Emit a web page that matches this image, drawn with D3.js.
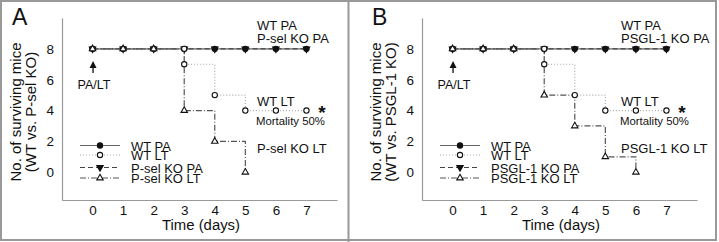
<!DOCTYPE html>
<html><head><meta charset="utf-8">
<script src="https://cdn.jsdelivr.net/npm/d3@7"></script>
<style>body{margin:0;background:#fff}svg{display:block}text{font-family:"Liberation Sans",Arial,sans-serif;fill:#111}</style>
</head><body>
<svg id="c" width="719" height="242"></svg>
<script>
// ---- data ----
const days = [0,1,2,3,4,5,6,7];
const xTicks = [0,1,2,3,4,5,6,7];
const yTicks = [0,2,4,6,8];
const wtPA = [8,8,8,8,8,8,8,8];
const koPA = [8,8,8,8,8,8,8,8];
const wtLTdays = [0,1,2,3,3,4,5,6,7];
const wtLTvalues = [8,8,8,8,7,5,4,4,4];
const pselLTdays = [0,1,2,3,4,5];
const pselLTvalues = [8,8,8,4,2,0];
const psglLTdays = [0,1,2,3,4,5,6];
const psglLTvalues = [8,8,8,5,3,1,0];
const panelLabels = ["A","B"];
const koNames = ["P-sel KO","PSGL-1 KO"];

const svg = d3.select("#c");
svg.append("rect").attr("x",1).attr("y",1).attr("width",715).attr("height",239)
  .attr("fill","none").attr("stroke","#999").attr("stroke-width",2);
svg.append("line").attr("x1",348.5).attr("x2",348.5).attr("y1",0).attr("y2",242)
  .attr("stroke","#999").attr("stroke-width",2);

// font size calibration: find size giving the reference width for a sample string
function sizeFor(str, targetW, base){
  const t = svg.append("text").attr("font-size",base).text(str);
  const w = t.node().getComputedTextLength();
  t.remove();
  return base*targetW/w;
}
const fsAnno = sizeFor("P-sel KO PA",72,14);
const fsMort = sizeFor("Mortality 50%",69,12);
const fsTitle = sizeFor("Time (days)",78,15);
const fsYT = sizeFor("No. of surviving mice",139,15);
const fsTick = sizeFor("8",7.5,13);
const fsArrow = sizeFor("PA/LT",33,14);

const x = d3.scaleLinear().domain([-1,8]).range([62,337]);
const y = d3.scaleLinear().domain([-1.8,10]).range([200,18]);

const styles = {
  wtPA:{stroke:"#666",dash:null,sym:d3.symbolCircle,fill:"#111",size:22,rot:0},
  wtLT:{stroke:"#aaa",dash:"1,2",sym:d3.symbolCircle,fill:"#fff",size:22,rot:0},
  koPA:{stroke:"#444",dash:"5,3",sym:d3.symbolTriangle,fill:"#111",size:18,rot:180},
  koLT:{stroke:"#555",dash:"6,2,1,2",sym:d3.symbolTriangle,fill:"#fff",size:18,rot:0}
};

function drawPanel(i, ltDays, ltValues){
  const g = svg.append("g").attr("transform",`translate(${i*360},0)`);
  const ko = koNames[i];
  g.append("text").attr("x",12).attr("y",25).attr("font-size",23).text(panelLabels[i]);

  const xa = g.append("g").attr("transform","translate(0,200)")
    .call(d3.axisBottom(x).tickValues(xTicks).tickSize(0).tickPadding(5).tickFormat(d3.format("d")));
  const ya = g.append("g").attr("transform","translate(62,0)")
    .call(d3.axisLeft(y).tickValues(yTicks).tickSize(0).tickPadding(8).tickFormat(d3.format("d")));
  [xa,ya].forEach(a=>{
    a.select(".domain").attr("stroke","#999").attr("stroke-width",1.2);
    a.selectAll("text").attr("font-size",fsTick).attr("fill","#111").attr("font-family","Liberation Sans, Arial, sans-serif");
  });

  g.append("text").attr("x",201).attr("y",230).attr("text-anchor","middle").attr("font-size",fsTitle).text("Time (days)");
  const yt = g.append("text").attr("transform","translate(21,112) rotate(-90)").attr("text-anchor","middle").attr("font-size",fsYT);
  yt.append("tspan").attr("x",0).attr("y",0).text("No. of surviving mice");
  yt.append("tspan").attr("x",0).attr("y",15).text(`(WT vs. ${ko})`);

  const line = d3.line().x(d=>x(d[0])).y(d=>y(d[1])).curve(d3.curveStepAfter);
  const series = [
    {k:"wtPA",pts:d3.zip(days,wtPA)},
    {k:"koPA",pts:d3.zip(days,koPA)},
    {k:"wtLT",pts:d3.zip(wtLTdays,wtLTvalues)},
    {k:"koLT",pts:d3.zip(ltDays,ltValues)}
  ];
  series.forEach(s=>{
    const st = styles[s.k];
    g.append("path").attr("d",line(s.pts)).attr("fill","none").attr("stroke",st.stroke)
      .attr("stroke-width",1.2).attr("stroke-dasharray",st.dash);
  });
  series.forEach(s=>{
    const st = styles[s.k];
    g.selectAll(null).data(s.pts).join("path")
      .attr("d",d3.symbol(st.sym,st.size))
      .attr("transform",d=>`translate(${x(d[0])},${y(d[1])}) rotate(${st.rot})`)
      .attr("fill",st.fill).attr("stroke","#111").attr("stroke-width",1.1);
  });

  // arrow
  const ax = x(0)+0.5;
  g.append("path").attr("d",`M${ax-3.5},68 L${ax},61 L${ax+3.5},68 Z`).attr("fill","#111");
  g.append("line").attr("x1",ax).attr("x2",ax).attr("y1",67).attr("y2",73).attr("stroke","#111").attr("stroke-width",1.3);
  g.append("text").attr("x",94).attr("y",89).attr("text-anchor","middle").attr("font-size",fsArrow).text("PA/LT");

  // annotations
  const ax0 = 257 + (i?4:0);
  g.append("text").attr("x",ax0).attr("y",30).attr("font-size",fsAnno).text("WT PA");
  g.append("text").attr("x",ax0).attr("y",42.5).attr("font-size",fsAnno).text(`${ko} PA`);
  g.append("text").attr("x",ax0).attr("y",106).attr("font-size",fsAnno).text("WT LT");
  g.append("text").attr("x",ax0-1).attr("y",125).attr("font-size",fsMort).text("Mortality 50%");
  g.append("text").attr("x",322).attr("y",119).attr("text-anchor","middle").attr("font-size",19).attr("font-weight","bold").text("*");
  g.append("text").attr("x",ax0).attr("y",153).attr("font-size",fsAnno).text(`${ko} LT`);

  // legend
  const rows = [
    {k:"wtPA",label:"WT PA",y:145.5},
    {k:"wtLT",label:"WT LT",y:155},
    {k:"koPA",label:`${ko} PA`,y:167.5},
    {k:"koLT",label:`${ko} LT`,y:178}
  ];
  rows.forEach(r=>{
    const st = styles[r.k];
    g.append("line").attr("x1",80).attr("x2",120).attr("y1",r.y).attr("y2",r.y)
      .attr("stroke",st.stroke).attr("stroke-width",1.2).attr("stroke-dasharray",st.dash);
    g.append("path").attr("d",d3.symbol(st.sym,st.size)).attr("transform",`translate(100,${r.y}) rotate(${st.rot})`)
      .attr("fill",st.fill).attr("stroke","#111").attr("stroke-width",1.1);
    g.append("text").attr("x",131).attr("y",r.y+5).attr("font-size",fsAnno).text(r.label);
  });
}

drawPanel(0, pselLTdays, pselLTvalues);
drawPanel(1, psglLTdays, psglLTvalues);
</script>
</body></html>
